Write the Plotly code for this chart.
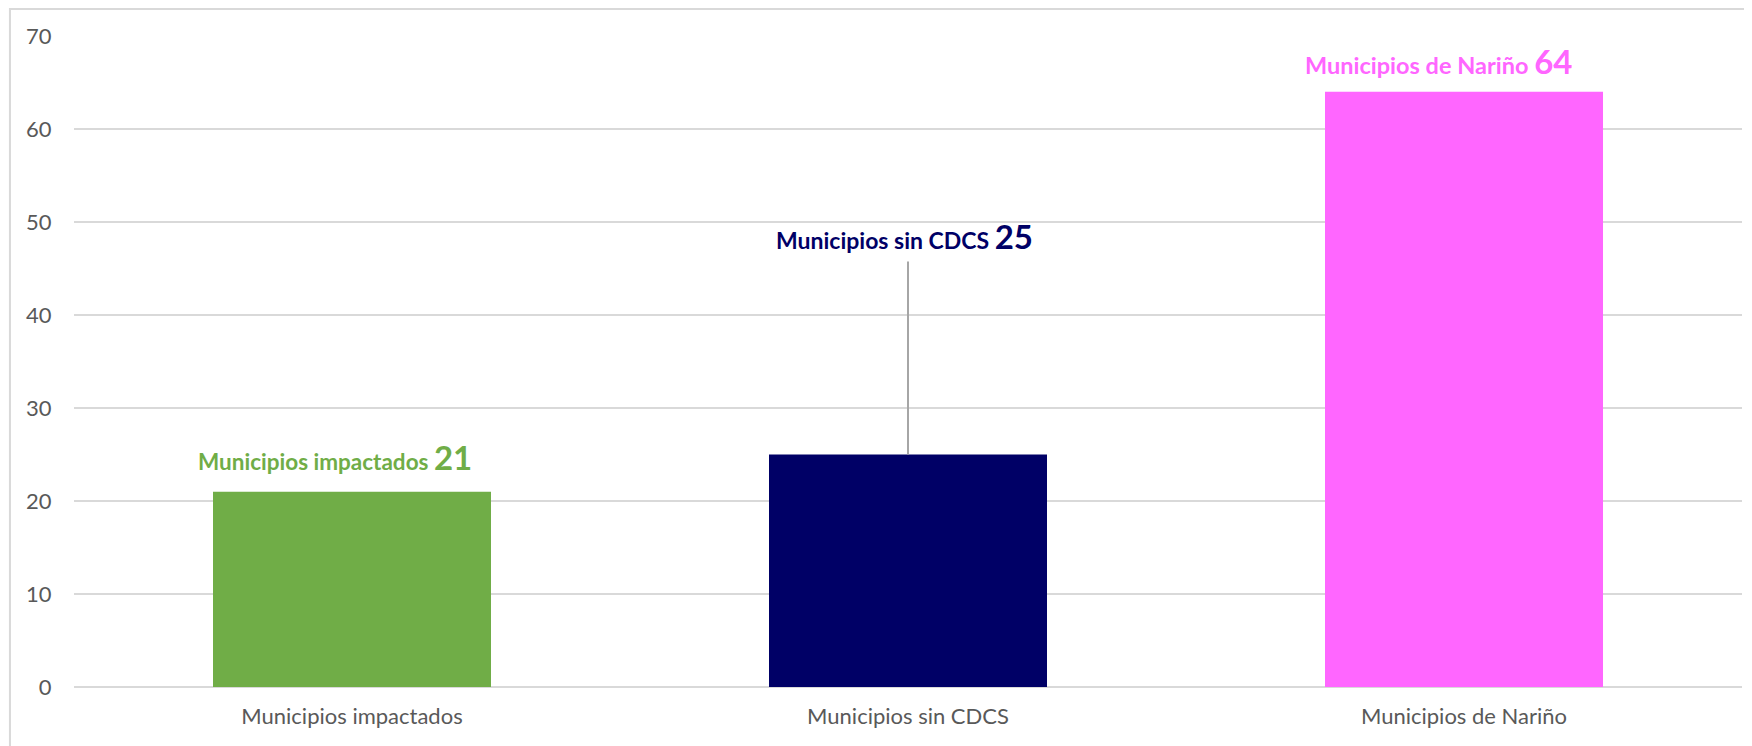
import plotly.graph_objects as go

# chart data
categorias = ["Municipios impactados", "Municipios sin CDCS", "Municipios de Nariño"]
valores = [21, 25, 64]
colores = ["#70AD47", "#000066", "#FF66FF"]
y_ticks = [0, 10, 20, 30, 40, 50, 60, 70]

FONT = "Lato"

fig = go.Figure()
fig.add_trace(go.Bar(
    x=categorias,
    y=valores,
    marker=dict(color=colores, line=dict(width=0)),
    width=0.5,
    hoverinfo="x+y",
))

# data labels: name in bold plus a bigger number, same colour as the bar
label_shift = {  # (xshift, yshift) in px
    0: (-17, 35),
    1: (-4, 219),
    2: (-26, 31),
}
label_size = {0: 22.5, 1: 23, 2: 23.5}
for i, (cat, val, col) in enumerate(zip(categorias, valores, colores)):
    dx, dy = label_shift[i]
    fig.add_annotation(
        x=cat, y=val, xref="x", yref="y",
        text=f"<b>{cat} <span style='font-size:33px'>{val}</span></b>",
        showarrow=False,
        xshift=dx, yshift=dy,
        font=dict(family=FONT, size=label_size[i], color=col),
    )

# leader line for the middle label
fig.add_shape(
    type="line", xref="x", yref="y",
    x0=categorias[1], x1=categorias[1],
    yanchor=valores[1], ysizemode="pixel", y0=0, y1=193,
    line=dict(color="#A6A6A6", width=2),
)

# outer chart border (light grey frame)
fig.add_shape(
    type="rect", xref="paper", yref="paper",
    x0=-0.0384, x1=1.03, y0=-0.2, y1=1.0415,
    line=dict(color="#D9D9D9", width=2), fillcolor="rgba(0,0,0,0)",
    layer="below",
)

# the page body adds an 8px offset, margins compensate for it
fig.update_layout(
    width=1752, height=746,
    margin=dict(l=66, r=18, t=28, b=67),
    paper_bgcolor="white",
    plot_bgcolor="white",
    showlegend=False,
    font=dict(family=FONT, color="#595959"),
    xaxis=dict(
        showgrid=False,
        showline=False,
        ticks="outside", ticklen=10, tickcolor="rgba(0,0,0,0)",
        tickfont=dict(size=22, color="#595959"),
    ),
    yaxis=dict(
        range=[0, 70],
        tickvals=y_ticks,
        showgrid=True, gridcolor="#D9D9D9", gridwidth=2,
        zeroline=True, zerolinecolor="#D9D9D9", zerolinewidth=2,
        showline=False,
        ticks="outside", ticklen=17, tickcolor="rgba(0,0,0,0)",
        tickfont=dict(size=22, color="#595959"),
    ),
)

fig.write_html("out.html")
